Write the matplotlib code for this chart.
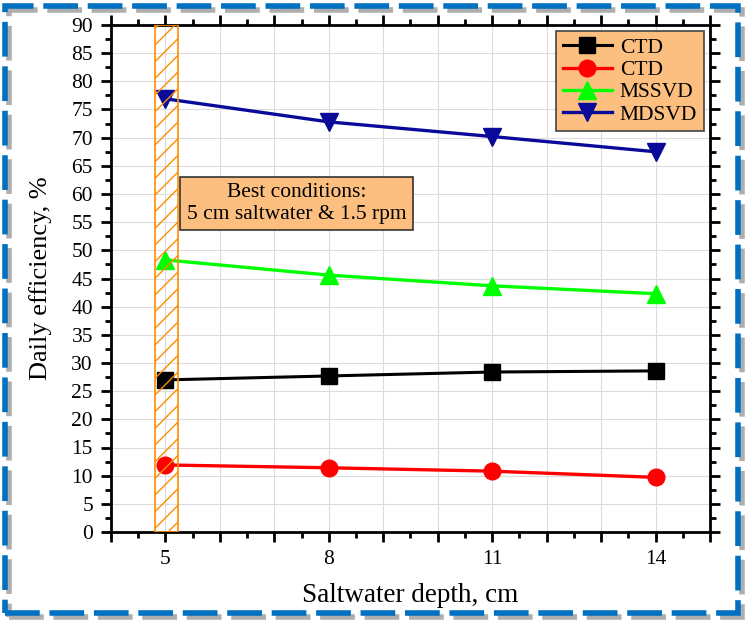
import matplotlib.pyplot as plt
from matplotlib.patches import Rectangle
from matplotlib.ticker import MultipleLocator

plt.rcParams['font.family'] = ['Liberation Serif', 'DejaVu Serif']
plt.rcParams['lines.scale_dashes'] = False
plt.rcParams['hatch.linewidth'] = 1.0

# data
depth = [5, 8, 11, 14]
ctd_black = [27.0, 27.7, 28.4, 28.6]
ctd_red = [11.9, 11.4, 10.8, 9.7]
mssvd = [48.3, 45.6, 43.7, 42.3]
mdsvd = [76.9, 72.8, 70.2, 67.5]
labels = ["CTD", "CTD", "MSSVD", "MDSVD"]
best_x = (4.8, 5.23)

fig = plt.figure(figsize=(7.49, 6.26), dpi=100)
ax = fig.add_axes([111/749, 1-532/626, (710-111)/749, (532-25)/626])

#series
ax.plot(depth, ctd_black, color='black', marker='s', ms=11, lw=2.2, label=labels[0], zorder=3)
ax.plot(depth, ctd_red, color='red', marker='o', ms=12, lw=2.4, label=labels[1], zorder=3)
ax.plot(depth, mssvd, color='#00ff00', marker='^', ms=13, lw=2.4, label=labels[2], zorder=3)
ax.plot(depth, mdsvd, color='#0a0a9a', marker='v', ms=13, lw=2.4, label=labels[3], zorder=3)

#hatched best-condition span
ax.axvspan(best_x[0], best_x[1], facecolor='none', edgecolor='#ff8c00',
           hatch='//', lw=1.2, zorder=4)

ax.set_xlim(4, 15)
ax.set_ylim(0, 90)
ax.xaxis.set_major_locator(MultipleLocator(1))
ax.xaxis.set_minor_locator(MultipleLocator(0.5))
ax.set_xticklabels(['' if t not in (5, 8, 11, 14) else str(int(t)) for t in ax.get_xticks()])
ax.yaxis.set_major_locator(MultipleLocator(5))
ax.yaxis.set_minor_locator(MultipleLocator(2.5))

ax.grid(True, which='major', color='#dcdcdc', lw=0.8, zorder=0)
ax.set_axisbelow(True)
for s in ax.spines.values():
    s.set_linewidth(2)
ax.tick_params(which='both', direction='out', top=True, right=True, width=2, labelsize=15.5)
ax.tick_params(which='major', length=7, pad=6)
ax.tick_params(which='minor', length=4)

ax.set_xlabel("Saltwater depth, cm", fontsize=19.5, labelpad=10)
ax.set_ylabel("Daily efficiency, %", fontsize=19, labelpad=14)

leg = ax.legend(loc='upper right', fontsize=15.5, fancybox=False, framealpha=1,
                facecolor='#fdbf7f', edgecolor='#444444', handlelength=2.3,
                borderaxespad=0.3, labelspacing=0.1, handletextpad=0.35,
                borderpad=0.3)
leg.get_frame().set_linewidth(1.2)

ax.text(296.5/749, 1-203.5/626, "Best conditions:\n5 cm saltwater & 1.5 rpm", transform=fig.transFigure,
        ha='center', va='center', fontsize=15.5, linespacing=1.2,
        bbox=dict(boxstyle='square,pad=0.3', facecolor='#fdbf7f', edgecolor='#333333', lw=1.2),
        zorder=5)

#dashed frame with shadow
W, H = 749, 626
shadow = Rectangle((9/W, 9/H), 733/W, 607/H, transform=fig.transFigure, fill=False,
                   edgecolor='#9a9a9a', lw=4, linestyle=(0, (25, 7)), alpha=0.8)
frame = Rectangle((5/W, 13/H), 733/W, 607/H, transform=fig.transFigure, fill=False,
                  edgecolor='#0070c0', lw=4, linestyle=(0, (25, 7)))
fig.patches.extend([shadow, frame])

fig.savefig("out.png", dpi=100)
